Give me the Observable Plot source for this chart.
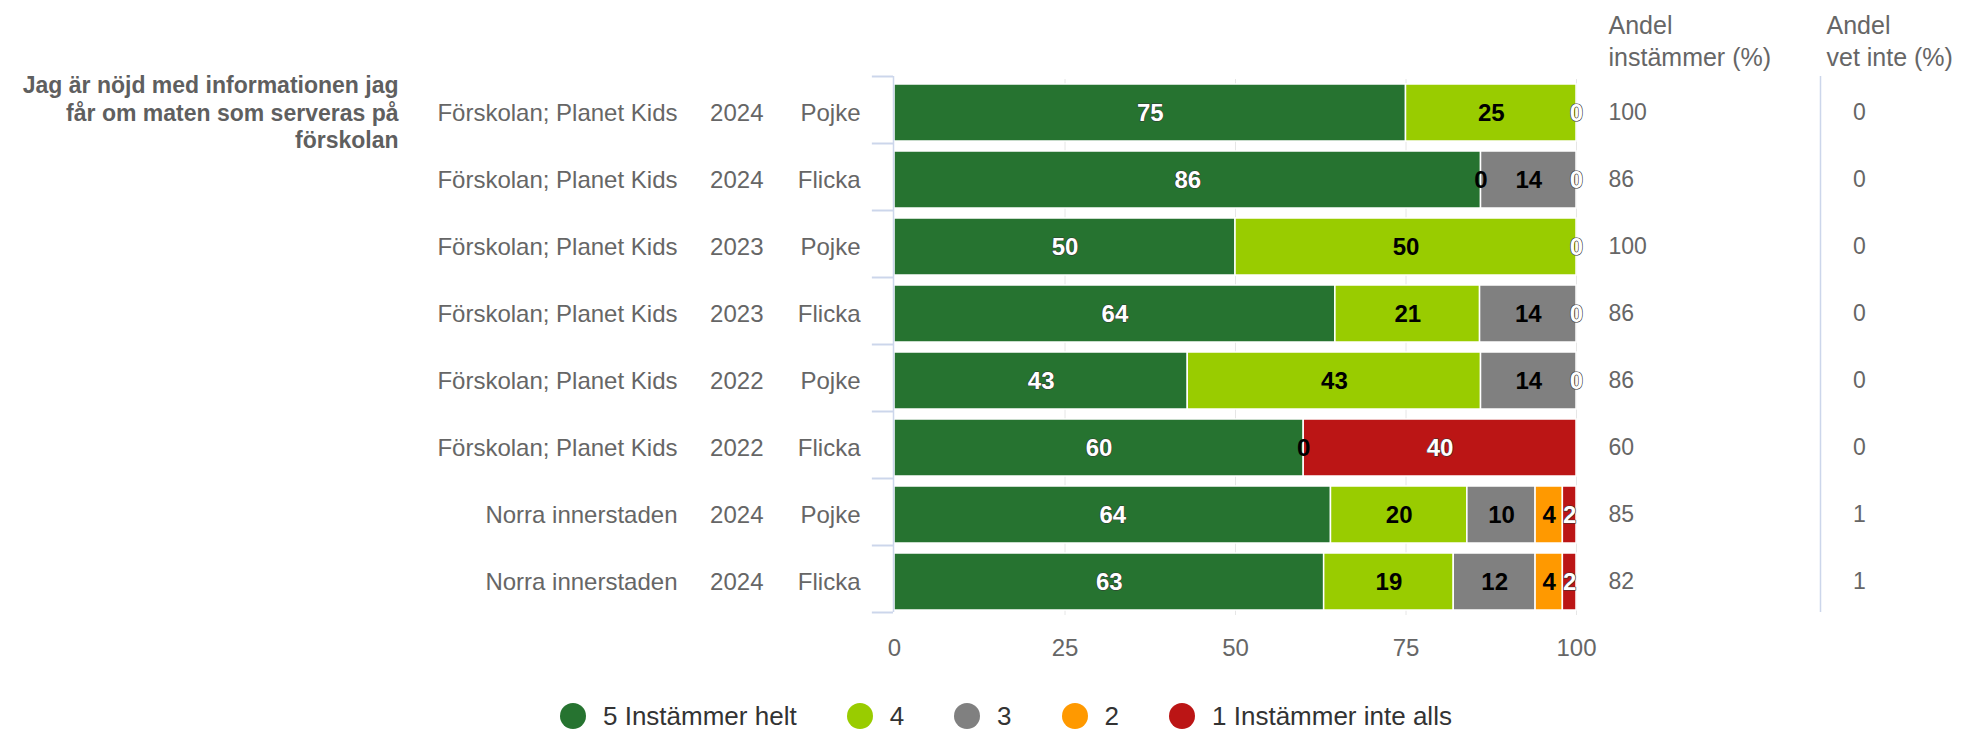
<!DOCTYPE html>
<html><head><meta charset="utf-8">
<script src="https://cdn.jsdelivr.net/npm/d3@7"></script>
<script src="https://cdn.jsdelivr.net/npm/@observablehq/plot@0.6"></script>
<style>
body{margin:0;background:#fff;font-family:"Liberation Sans",Arial,sans-serif;}
#legend{display:flex;align-items:center;padding-left:560px;height:26px;margin-top:23px;}
.item{display:flex;align-items:center;margin-right:50px;font-size:26px;color:#333;white-space:nowrap;}
.sw{width:26px;height:26px;border-radius:50%;margin-right:17px;flex:none;}
</style></head><body>
<div id="chart"></div><div id="legend"></div>
<script>
// ---- data ----
const schools = ["Förskolan; Planet Kids","Förskolan; Planet Kids","Förskolan; Planet Kids","Förskolan; Planet Kids","Förskolan; Planet Kids","Förskolan; Planet Kids","Norra innerstaden","Norra innerstaden"];
const years = ["2024","2024","2023","2023","2022","2022","2024","2024"];
const genders = ["Pojke","Flicka","Pojke","Flicka","Pojke","Flicka","Pojke","Flicka"];
const levels = ["5 Instämmer helt","4","3","2","1 Instämmer inte alls"];
const colors = ["#267330","#99cc00","#808080","#ff9900","#bb1515"];
const labelColors = ["#ffffff","#000000","#000000","#000000","#ffffff"];
const s5 = [75, 86, 50, 64, 43, 60, 64, 63];
const s4 = [25, 0, 50, 21, 43, 0, 20, 19];
const s3 = [null, 14, null, 14, 14, null, 10, 12];
const s2 = [null, null, null, null, null, null, 4, 4];
const s1 = [0, 0, 0, 0, 0, 40, 2, 2];
const andelInst = [100, 86, 100, 86, 86, 60, 85, 82];
const andelVet = [0, 0, 0, 0, 0, 0, 1, 1];
const question = "Jag är nöjd med informationen jag\nfår om maten som serveras på\nförskolan";
const headInst = "Andel\ninstämmer (%)";
const headVet = "Andel\nvet inte (%)";
const xTicks = [0, 25, 50, 75, 100];
const gridTicks = [25, 50, 75, 100];

// ---- derived table (percent stacking, labels keep raw values) ----
const series = [s5, s4, s3, s2, s1];
const keys = schools.map((_, i) => "r" + i);
const rows = keys.map((k, i) => ({key: k, school: schools[i], year: years[i], gender: genders[i], inst: andelInst[i], vet: andelVet[i]}));
const segs = [];
keys.forEach((k, i) => {
  const total = d3.sum(series, s => s[i] ?? 0) || 1;
  let cum = 0;
  series.forEach((s, j) => {
    const v = s[i];
    if (v == null) return;
    const a = cum / total * 100, b = (cum + v) / total * 100;
    segs.push({key: k, level: levels[j], value: v, x1: a, x2: b, mid: (a + b) / 2, lc: labelColors[j]});
    cum += v;
  });
});

const W = 1967, H = 680, mL = 894, mR = 391, mT = 79, mB = 65;
const step = (H - mT - mB) / keys.length;
const shift = -3; // band boundary ticks sit slightly above the bars
const txt = "#666666";

const chart = Plot.plot({
  width: W, height: H,
  marginLeft: mL, marginRight: mR, marginTop: mT, marginBottom: mB,
  style: {fontFamily: '"Liberation Sans", Arial, sans-serif', color: txt, background: "#fff", overflow: "visible"},
  x: {domain: [0, 100]},
  y: {domain: keys, paddingInner: 0.15, paddingOuter: 0.075, axis: null},
  color: {domain: levels, range: colors},
  marks: [
    Plot.ruleX(gridTicks, {stroke: "#e6e6e6", strokeWidth: 1}),
    Plot.barX(segs, {y: "key", x1: "x1", x2: "x2", fill: "level", stroke: "#fff", strokeWidth: 1.5}),
    // left axis line and band ticks
    Plot.ruleX([0], {stroke: "#ccd6eb", strokeWidth: 1.5, dx: -1, dy: shift}),
    Plot.ruleY(keys, {y: d => d, x1: -3.1, x2: 0, stroke: "#ccd6eb", strokeWidth: 2, dy: -step / 2 + shift, dx: -1}),
    Plot.ruleY([keys[keys.length - 1]], {y: d => d, x1: -3.1, x2: 0, stroke: "#ccd6eb", strokeWidth: 2, dy: step / 2 + shift, dx: -1}),
    // separator between the two right-hand columns
    Plot.ruleX([100], {stroke: "#ccd6eb", strokeWidth: 1.5, dx: 244, dy: shift}),
    // data labels
    Plot.text(segs.filter(d => d.lc === "#ffffff"), {y: "key", x: "mid", text: d => String(d.value), fill: "#fff", stroke: "#333", strokeWidth: 1.2, fontSize: 24, fontWeight: "bold"}),
    Plot.text(segs.filter(d => d.lc !== "#ffffff"), {y: "key", x: "mid", text: d => String(d.value), fill: "#000", fontSize: 24, fontWeight: "bold"}),
    // row labels
    Plot.text(rows, {y: "key", text: "school", frameAnchor: "left", dx: -217, textAnchor: "end", fill: txt, fontSize: 24}),
    Plot.text(rows, {y: "key", text: "year", frameAnchor: "left", dx: -131, textAnchor: "end", fill: txt, fontSize: 24}),
    Plot.text(rows, {y: "key", text: "gender", frameAnchor: "left", dx: -34, textAnchor: "end", fill: txt, fontSize: 24}),
    Plot.text([question], {y: () => keys[0], text: d => d, frameAnchor: "left", dx: -496, dy: -1, textAnchor: "end", lineHeight: 1.2, fill: "#5f5f5f", fontSize: 23, fontWeight: "bold"}),
    // right columns
    Plot.text(rows, {y: "key", text: d => String(d.inst), frameAnchor: "right", dx: 32, textAnchor: "start", fill: txt, fontSize: 23}),
    Plot.text(rows, {y: "key", text: d => String(d.vet), frameAnchor: "right", dx: 283, textAnchor: "middle", fill: txt, fontSize: 23}),
    Plot.text([headInst], {text: d => d, frameAnchor: "top-right", lineAnchor: "middle", dx: 32, dy: 39 - mT, textAnchor: "start", lineHeight: 1.3, fill: txt, fontSize: 25}),
    Plot.text([headVet], {text: d => d, frameAnchor: "top-right", lineAnchor: "middle", dx: 250, dy: 39 - mT, textAnchor: "start", lineHeight: 1.3, fill: txt, fontSize: 25}),
    Plot.axisX({ticks: xTicks, tickSize: 0, tickPadding: 23, fontSize: 24, label: null, tickFormat: d => String(d)})
  ]
});
document.getElementById("chart").append(chart);

const legend = d3.select("#legend");
levels.forEach((l, i) => {
  const it = legend.append("div").attr("class", "item");
  it.append("div").attr("class", "sw").style("background", colors[i]);
  it.append("span").text(l);
});
</script>
</body></html>
